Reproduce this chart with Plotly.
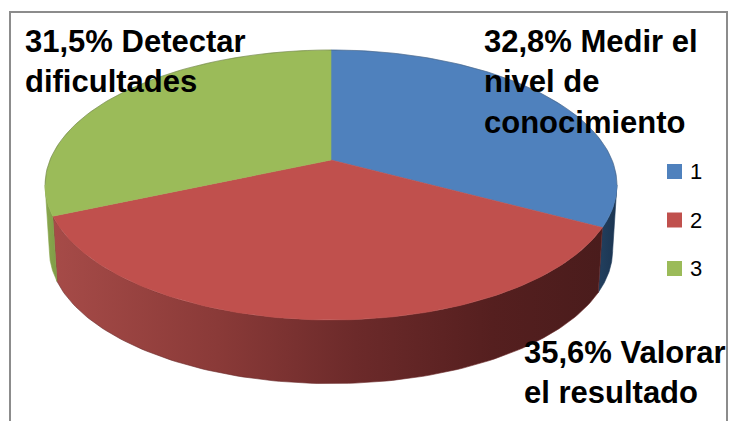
import math
import plotly.graph_objects as go

# ---- data ----
categories = ["1", "2", "3"]
values = [32.8, 35.6, 31.5]
labels = ["32,8% Medir el<br>nivel de<br>conocimiento",
          "35,6% Valorar<br>el resultado",
          "31,5% Detectar<br>dificultades"]

# ---- styles ----
top_colors = ["#4F81BD", "#C0504D", "#9BBB59"]
side_fills = [
    dict(type="horizontal", colorscale=[[0, "#22405f"], [1, "#1b3450"]]),
    dict(type="horizontal", colorscale=[[0, "#a64b48"], [0.3, "#8a3a38"],
                                        [0.55, "#6c2a2a"], [0.8, "#551f1f"], [1, "#4a1c1c"]]),
    dict(type="horizontal", colorscale=[[0, "#8aa84e"], [1, "#7f9c46"]]),
]
side_line = ["#1f3a5a", "#6a2828", "#87a54b"]

W, Hpx = 730, 421
CX, CY = 331, 160          # apex of the top face (pixels)
A, B, K = 281, 130.4, 0.185  # perspective ellipse parameters
THICK = 66                 # side height
BSCALE = 0.985


def proj(theta_deg, dy=0.0, scale=1.0):
    t = math.radians(theta_deg)
    X = math.sin(t)
    Z = -math.cos(t)
    den = 1 - K * Z
    return CX + A * scale * X / den, CY + dy + B * scale * Z / den


def arc(a, b, dy=0.0, scale=1.0, n=120):
    pts = []
    for i in range(n + 1):
        th = a + (b - a) * i / n
        pts.append(proj(th, dy, scale))
    return pts


total = sum(values)
angles = [0.0]
for v in values:
    angles.append(angles[-1] + 360.0 * v / total)

tanL = math.degrees(math.acos(-K))        # right tangent
tanR = 360 - tanL                          # left tangent

fig = go.Figure()

# sides
for i in range(len(values)):
    a, b = angles[i], angles[i + 1]
    lo, hi = max(a, tanL), min(b, tanR)
    if hi <= lo:
        continue
    top = arc(lo, hi)
    bot = arc(hi, lo, THICK, BSCALE)
    pts = top + bot + [top[0]]
    fig.add_trace(go.Scatter(
        x=[p[0] for p in pts], y=[p[1] for p in pts],
        mode="lines", fill="toself", fillgradient=side_fills[i],
        line=dict(color=side_line[i], width=0.6),
        hoverinfo="skip", showlegend=False))

# top faces
for i in range(len(values)):
    a, b = angles[i], angles[i + 1]
    pts = [(CX, CY)] + arc(a, b) + [(CX, CY)]
    fig.add_trace(go.Scatter(
        x=[p[0] for p in pts], y=[p[1] for p in pts],
        mode="lines", fill="toself", fillcolor=top_colors[i],
        line=dict(color=top_colors[i], width=0.6),
        name=categories[i], hoverinfo="skip", showlegend=False))

# faint outer outline of the top face (back half) as in the reference
back = arc(tanR - 360, tanL)
fig.add_trace(go.Scatter(x=[p[0] for p in back], y=[p[1] for p in back], mode="lines",
                         line=dict(color="rgba(60,60,60,0.35)", width=0.8),
                         hoverinfo="skip", showlegend=False))

# data labels
label_pos = [(482, 22), (522, 333), (23, 22)]
for lab, (lx, ly) in zip(labels, label_pos):
    fig.add_annotation(x=lx, y=ly, xref="x", yref="y", text="<b>" + lab + "</b>",
                       showarrow=False, xanchor="left", yanchor="top", align="left",
                       font=dict(family="Liberation Sans, Arial", size=31, color="black"))

# legend
leg_y = [171.5, 220, 268.5]
for cat, col, yy in zip(categories, top_colors, leg_y):
    fig.add_shape(type="rect", x0=667, x1=682, y0=yy - 7.5, y1=yy + 7.5,
                  xref="x", yref="y", fillcolor=col, line=dict(width=0))
    fig.add_annotation(x=688, y=yy, xref="x", yref="y", text=cat, showarrow=False,
                       xanchor="left", yanchor="middle",
                       font=dict(family="Liberation Sans, Arial", size=22, color="black"))

# chart border
fig.add_shape(type="rect", x0=10, x1=727, y0=12, y1=440, xref="x", yref="y",
              line=dict(color="#8c8c8c", width=2), fillcolor="rgba(0,0,0,0)", layer="below")

fig.update_layout(
    width=W, height=Hpx, margin=dict(l=0, r=0, t=0, b=0),
    paper_bgcolor="white", plot_bgcolor="white",
    xaxis=dict(range=[0, W], visible=False, fixedrange=True),
    yaxis=dict(range=[Hpx, 0], visible=False, fixedrange=True),
    showlegend=False,
)

fig.write_html("out.html", config={"displayModeBar": False},
               post_script="document.body.style.margin='0';"
                           "document.body.style.overflow='hidden';"
                           "document.documentElement.style.overflow='hidden';")
